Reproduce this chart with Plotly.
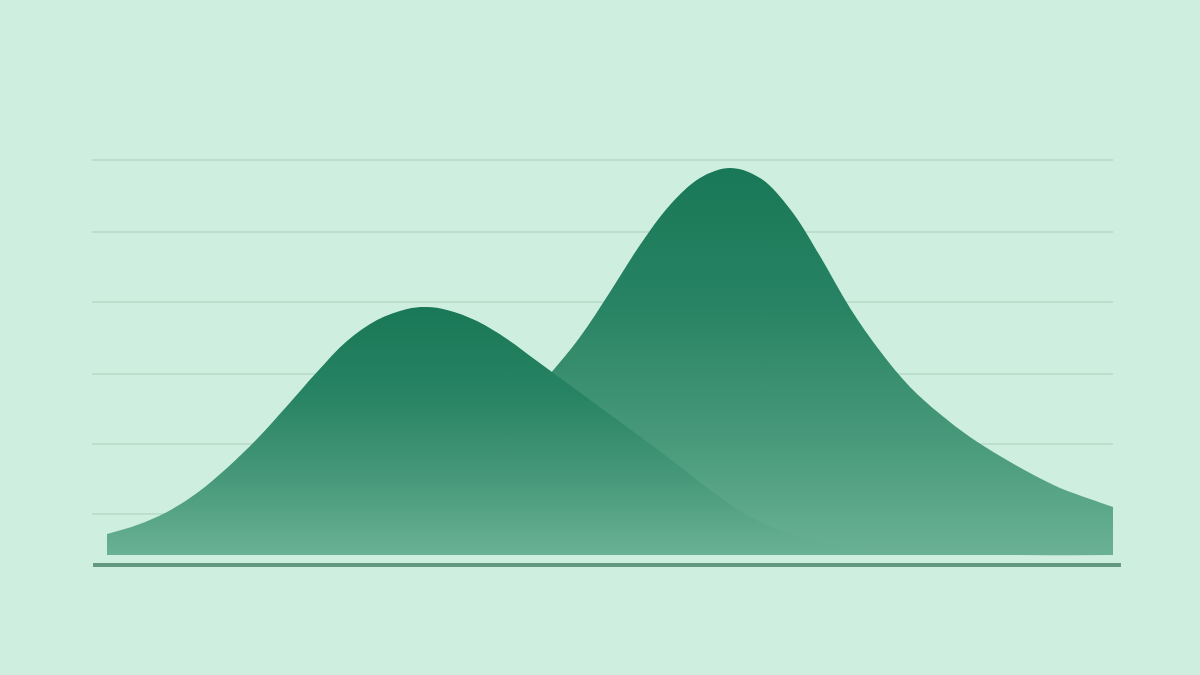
import plotly.graph_objects as go

# Unidades: x = píxel horizontal desde el borde izquierdo del área,
# y = altura sobre la base del área
# Curva 1 (pico izquierdo)
x_1 = [0, 30, 60, 90, 120, 150, 180, 210, 240, 270, 300, 320, 340, 370,
       400, 430, 460, 490, 520, 550, 580, 610, 640, 680, 740, 840, 1006]
y_1 = [21, 30, 43, 62, 87, 116, 149, 183, 214, 235, 246, 248, 245, 234,
       216, 194, 172, 150, 128, 106, 83, 60, 40, 22, 7, 1, 0]

# Curva 2 (pico derecho)
x_2 = [0, 143, 243, 293, 323, 353, 383, 413, 443, 473, 503, 533, 563, 593,
       623, 653, 683, 713, 743, 773, 803, 833, 863, 893, 923, 953, 983, 1006]
y_2 = [0, 7, 30, 55, 75, 96, 120, 148, 181, 218, 263, 310, 350, 377,
       387, 377, 346, 299, 247, 204, 168, 141, 118, 99, 82, 67, 56, 48]

grid_vals = [41, 111, 181, 253, 323, 395]

escala = [[0.0, "#6ab195"], [0.3, "#48997b"], [0.65, "#278363"], [1.0, "#197857"]]

fig = go.Figure()

# la segunda curva va detrás
fig.add_trace(go.Scatter(
    x=x_2, y=y_2, mode="lines", line=dict(width=0, shape="spline", smoothing=1.0),
    fill="tozeroy",
    fillgradient=dict(type="vertical", colorscale=escala, start=0, stop=max(y_2)),
))
fig.add_trace(go.Scatter(
    x=x_1, y=y_1, mode="lines", line=dict(width=0, shape="spline", smoothing=1.0),
    fill="tozeroy",
    fillgradient=dict(type="vertical", colorscale=escala, start=0, stop=max(y_1)),
))

# línea base
fig.add_shape(type="line", xref="paper", yref="y", x0=0.001, x1=1.0078,
              y0=-10, y1=-10, line=dict(color="#63997f", width=4))

fig.update_layout(
    width=1200, height=675,
    paper_bgcolor="#ceeedf", plot_bgcolor="#ceeedf",
    margin=dict(l=92, r=87, t=80, b=95),
    showlegend=False,
    xaxis=dict(range=[-15, 1006], showgrid=False, zeroline=False,
               showticklabels=False, visible=False),
    yaxis=dict(range=[-25, 475], tickvals=grid_vals, showgrid=True,
               gridcolor="#bcdfcd", gridwidth=1.5, zeroline=False,
               showticklabels=False, showline=False),
)

fig.write_html("out.html", config={"displayModeBar": False},
               post_script="document.body.style.margin='0px';"
               "document.body.style.background='#ceeedf';")
